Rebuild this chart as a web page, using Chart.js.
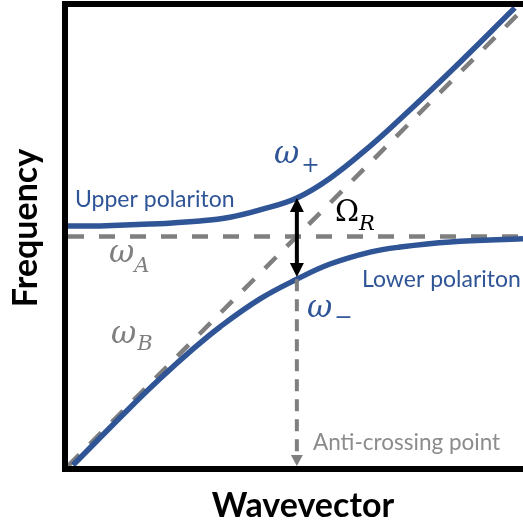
<!DOCTYPE html>
<html>
<head>
<meta charset="utf-8">
<script src="https://cdn.jsdelivr.net/npm/chart.js@4.4.1/dist/chart.umd.min.js"></script>
<style>
  html, body { margin: 0; padding: 0; background: #ffffff; overflow: hidden; }
  canvas { display: block; }
</style>
</head>
<body>
<canvas id="chart" width="523" height="524"></canvas>
<script>
// Polariton dispersion: wavevector k and frequency, arbitrary units.
const upperK = [0, 0.7, 1.8, 2.9, 3.56, 4.22, 5.03, 5.76, 6.64, 7.3, 8.4, 9.82];
const upperW = [5.23, 5.23, 5.27, 5.34, 5.42, 5.58, 5.84, 6.27, 6.97, 7.56, 8.59, 9.98];
const lowerK = [0.11, 1.3, 2.02, 2.75, 3.34, 4.22, 5.03, 5.76, 6.64, 7.3, 8.4, 10];
const lowerW = [0.02, 1.21, 1.9, 2.55, 3.03, 3.64, 4.07, 4.4, 4.66, 4.77, 4.88, 4.95];

// Uncoupled modes: flat mode A and dispersive mode B.
const modeAK = [0, 10];
const modeAW = [5.0, 5.0];
const modeBK = [0, 10];
const modeBW = [0, 9.95];

// Anti-crossing point and the Rabi splitting between the branches.
const crossK = 5.03;
const splitTop = 5.84;
const splitBottom = 4.12;
const dropFrom = 4.07;
const dropTo = 0;

const BLUE = '#2F5597';
const GREY = '#7F7F7F';
const LIGHT_GREY = '#8C8C8C';

const pts = (ks, ws) => ks.map((k, i) => ({ x: k, y: ws[i] }));

// Text placed on the plot (pixel anchors: left edge, baseline).
const notes = [
  { text: 'Upper polariton', x: 75, y: 207, font: '23px Lato', color: BLUE },
  { text: 'Lower polariton', x: 362, y: 287, font: '23px Lato', color: BLUE },
  { text: 'Anti-crossing point', x: 313, y: 450, font: '22.5px Lato', color: LIGHT_GREY }
];
// Symbol + subscript; dy is the subscript drop below the main baseline.
const symbols = [
  { main: 'ω', mainFont: 'italic 31px "DejaVu Serif"', sub: '+', subFont: '22px "DejaVu Serif"', x: 274, y: 163, gap: 2, dy: 9, color: BLUE },
  { main: 'ω', mainFont: 'italic 31px "DejaVu Serif"', sub: '−', subFont: '22px "DejaVu Serif"', x: 307, y: 317, gap: 2, dy: 7, color: BLUE },
  { main: 'ω', mainFont: 'italic 31px "DejaVu Serif"', sub: 'A', subFont: 'italic 21px "DejaVu Serif"', x: 109, y: 262, gap: 0, dy: 10, color: GREY },
  { main: 'ω', mainFont: 'italic 31px "DejaVu Serif"', sub: 'B', subFont: 'italic 21px "DejaVu Serif"', x: 111, y: 343, gap: 1, dy: 7, color: GREY },
  { main: 'Ω', mainFont: '29px "DejaVu Serif"', sub: 'R', subFont: 'italic 21px "DejaVu Serif"', x: 335, y: 221, gap: 0, dy: 9, color: '#000000' }
];

function arrowHead(ctx, x, tipY, dir, width, length, color) {
  ctx.fillStyle = color;
  ctx.beginPath();
  ctx.moveTo(x, tipY);
  ctx.lineTo(x - width / 2, tipY - dir * length);
  ctx.lineTo(x + width / 2, tipY - dir * length);
  ctx.closePath();
  ctx.fill();
}

const overlay = {
  id: 'overlay',
  afterDatasetsDraw(chart) {
    const { ctx, chartArea: a, scales: { x, y } } = chart;
    ctx.save();

    const px = x.getPixelForValue(crossK);

    // dashed drop line from the lower branch to the k axis
    const d0 = y.getPixelForValue(dropFrom);
    const d1 = y.getPixelForValue(dropTo);
    ctx.strokeStyle = GREY;
    ctx.lineWidth = 4;
    ctx.setLineDash([12, 8]);
    ctx.beginPath();
    ctx.moveTo(px, d0);
    ctx.lineTo(px, d1 - 10);
    ctx.stroke();
    ctx.setLineDash([]);
    arrowHead(ctx, px, d1, 1, 12, 11, GREY);

    // double arrow marking the Rabi splitting
    const t = y.getPixelForValue(splitTop);
    const b = y.getPixelForValue(splitBottom);
    ctx.strokeStyle = '#000000';
    ctx.lineWidth = 4;
    ctx.beginPath();
    ctx.moveTo(px, t + 12);
    ctx.lineTo(px, b - 12);
    ctx.stroke();
    arrowHead(ctx, px, t, -1, 14, 14, '#000000');
    arrowHead(ctx, px, b, 1, 14, 14, '#000000');

    // frame: left, top and bottom edges
    ctx.strokeStyle = '#000000';
    ctx.lineWidth = 6;
    ctx.lineJoin = 'miter';
    ctx.beginPath();
    ctx.moveTo(a.right + 10, a.top - 3);
    ctx.lineTo(a.left - 3, a.top - 3);
    ctx.lineTo(a.left - 3, a.bottom + 3);
    ctx.lineTo(a.right + 10, a.bottom + 3);
    ctx.stroke();

    // annotations
    ctx.textBaseline = 'alphabetic';
    ctx.textAlign = 'left';
    notes.forEach(n => {
      ctx.font = n.font;
      ctx.fillStyle = n.color;
      ctx.fillText(n.text, n.x, n.y);
    });
    symbols.forEach(s => {
      ctx.fillStyle = s.color;
      ctx.font = s.mainFont;
      ctx.fillText(s.main, s.x, s.y);
      const w = ctx.measureText(s.main).width;
      ctx.font = s.subFont;
      ctx.fillText(s.sub, s.x + w + s.gap, s.y + s.dy);
    });

    // axis titles
    ctx.fillStyle = '#000000';
    ctx.font = 'bold 34px Lato';
    ctx.textAlign = 'center';
    ctx.fillText('Wavevector', 303, 517);
    ctx.save();
    ctx.translate(37, 228);
    ctx.rotate(-Math.PI / 2);
    ctx.fillText('Frequency', 0, 0);
    ctx.restore();

    ctx.restore();
  }
};

new Chart(document.getElementById('chart'), {
  type: 'line',
  data: {
    datasets: [
      {
        label: 'Upper polariton',
        data: pts(upperK, upperW),
        borderColor: BLUE,
        borderWidth: 5.5,
        pointRadius: 0,
        tension: 0.4
      },
      {
        label: 'Lower polariton',
        data: pts(lowerK, lowerW),
        borderColor: BLUE,
        borderWidth: 5.5,
        pointRadius: 0,
        tension: 0.4
      },
      {
        label: 'ωA',
        data: pts(modeAK, modeAW),
        borderColor: GREY,
        borderWidth: 4.5,
        borderDash: [16, 15],
        pointRadius: 0
      },
      {
        label: 'ωB',
        data: pts(modeBK, modeBW),
        borderColor: GREY,
        borderWidth: 4.5,
        borderDash: [16, 15],
        pointRadius: 0
      }
    ]
  },
  options: {
    responsive: false,
    animation: false,
    devicePixelRatio: 1,
    layout: { padding: { left: 68, right: 0, top: 7, bottom: 58 } },
    scales: {
      x: { type: 'linear', min: 0, max: 10, display: false },
      y: { type: 'linear', min: 0, max: 10, display: false }
    },
    plugins: {
      legend: { display: false },
      tooltip: { enabled: false },
      title: { display: false }
    }
  },
  plugins: [overlay]
});
</script>
</body>
</html>
